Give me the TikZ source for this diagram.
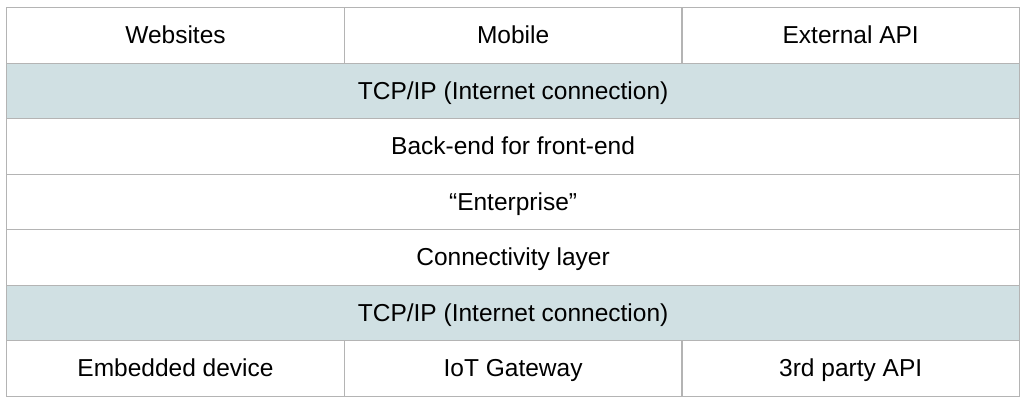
\documentclass[tikz,border=0pt]{standalone}
\usepackage{fontspec}
\setmainfont{Liberation Sans}
\definecolor{gridgray}{HTML}{B4B4B4}
\definecolor{bandblue}{HTML}{D0E0E3}
\begin{document}
\begin{tikzpicture}[x=1pt,y=-1pt,
  cell/.style={draw=gridgray, line width=1.4pt, minimum height=55.5pt, inner sep=0pt, text height=19.6pt, text depth=3.2pt, anchor=north west, font=\fontsize{24.5}{28}\selectfont},
  third/.style={cell, minimum width=337.6pt},
  full/.style={cell, minimum width=1012.8pt},
  band/.style={full, fill=bandblue}]
\useasboundingbox[fill=white] (0,0) rectangle (1026,402);
\node[third] (web) at (6,7) {Websites};
\node[third] (mob) at (343.6,7) {Mobile};
\node[third] (ext) at (681.2,7) {External API};
\node[band] (tcp1) at (6,62.5) {TCP/IP (Internet connection)};
\node[full] (bff) at (6,118) {Back-end for front-end};
\node[full] (ent) at (6,173.5) {“Enterprise”};
\node[full] (con) at (6,229) {Connectivity layer};
\node[band] (tcp2) at (6,284.5) {TCP/IP (Internet connection)};
\node[third] (emb) at (6,340) {Embedded device};
\node[third] (iot) at (343.6,340) {IoT Gateway};
\node[third] (api) at (681.2,340) {3rd party API};
\end{tikzpicture}
\end{document}
